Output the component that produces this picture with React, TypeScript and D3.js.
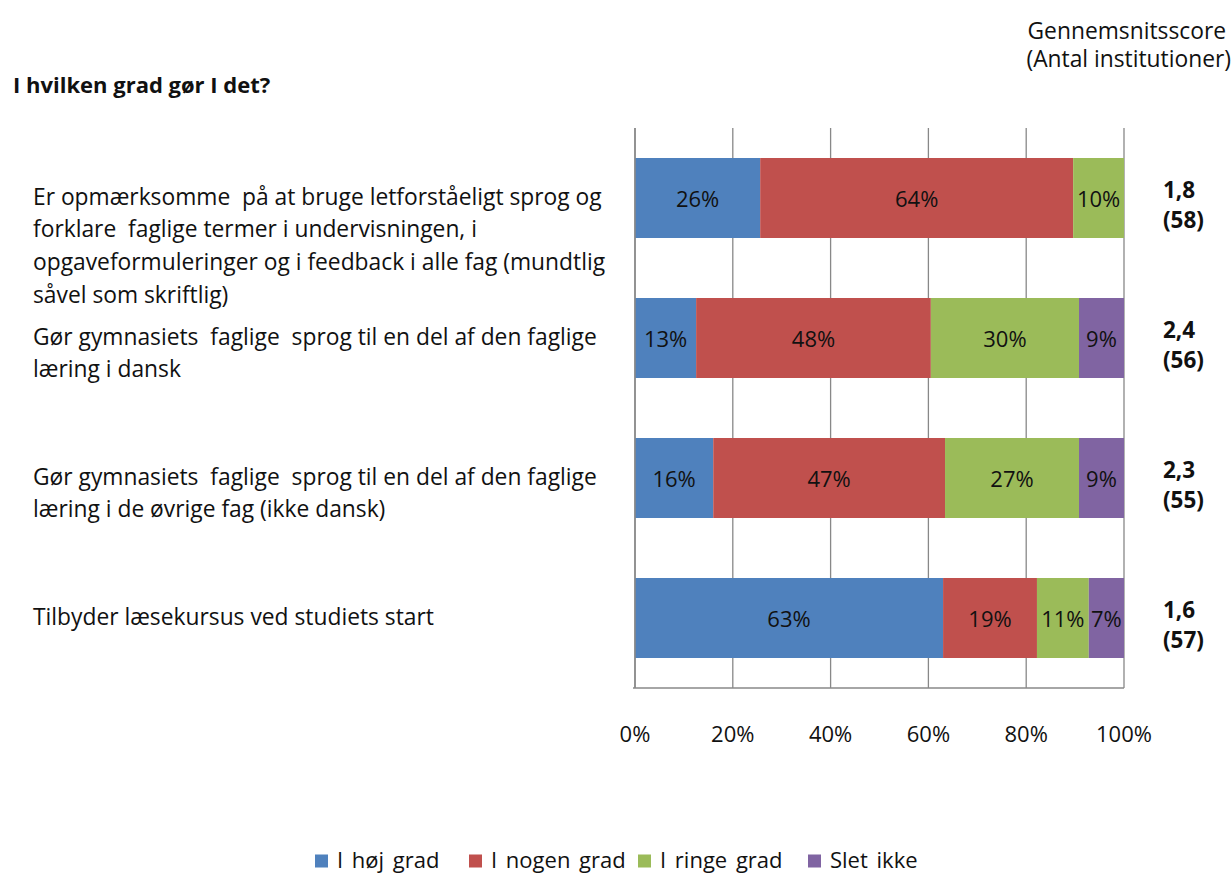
import React, { useEffect, useRef } from "react";
import * as d3 from "d3";

const categories: string[][] = [
  [
    "Er opmærksomme  på at bruge letforståeligt sprog og",
    "forklare  faglige termer i undervisningen, i",
    "opgaveformuleringer og i feedback i alle fag (mundtlig",
    "såvel som skriftlig)",
  ],
  ["Gør gymnasiets  faglige  sprog til en del af den faglige", "læring i dansk"],
  ["Gør gymnasiets  faglige  sprog til en del af den faglige", "læring i de øvrige fag (ikke dansk)"],
  ["Tilbyder læsekursus ved studiets start"],
];

const seriesNames = ["I høj grad", "I nogen grad", "I ringe grad", "Slet ikke"];
const hoejGrad = [25.6, 12.5, 16.0, 63.0];
const nogenGrad = [64.0, 48.0, 47.4, 19.2];
const ringeGrad = [10.4, 30.3, 27.4, 10.6];
const sletIkke = [0, 9.2, 9.2, 7.2];
const scores = ["1,8", "2,4", "2,3", "1,6"];
const counts = ["(58)", "(56)", "(55)", "(57)"];
const xTicks = [0, 20, 40, 60, 80, 100];
const colors = ["#4F81BD", "#C0504D", "#9BBB59", "#8064A2"];

const FONT = "'Open Sans', Lato, sans-serif";

export default function App() {
  const ref = useRef<SVGSVGElement>(null);

  useEffect(() => {
    const svg = d3.select(ref.current);
    svg.selectAll("*").remove();

    const x0 = 635, x1 = 1124, y0 = 128, y1 = 688;
    const x = d3.scaleLinear().domain([0, 100]).range([x0, x1]);
    const y = d3
      .scaleBand<number>()
      .domain(d3.range(categories.length))
      .range([y0, y1])
      .paddingInner(3 / 7)
      .paddingOuter(3 / 14);

    const values = [hoejGrad, nogenGrad, ringeGrad, sletIkke];
    const rows = categories.map((_, i) => {
      const obj: any = { i };
      seriesNames.forEach((s, k) => (obj[s] = values[k][i]));
      return obj;
    });
    const stacked = d3.stack<any>().keys(seriesNames)(rows);

    // gridlines
    svg
      .append("g")
      .selectAll("line")
      .data(xTicks)
      .join("line")
      .attr("x1", (d) => x(d))
      .attr("x2", (d) => x(d))
      .attr("y1", y0)
      .attr("y2", y1)
      .attr("stroke", "#888888")
      .attr("stroke-width", 1.3);

    // bars
    stacked.forEach((layer, k) => {
      const g = svg.append("g");
      const segs = layer.filter((d) => d[1] - d[0] > 0);
      g.selectAll("rect")
        .data(segs)
        .join("rect")
        .attr("x", (d) => x(d[0]))
        .attr("width", (d) => x(d[1]) - x(d[0]))
        .attr("y", (d) => y(d.data.i)!)
        .attr("height", y.bandwidth())
        .attr("fill", colors[k]);
      g.selectAll("text")
        .data(segs)
        .join("text")
        .attr("x", (d) => (x(d[0]) + x(d[1])) / 2)
        .attr("y", (d) => y(d.data.i)! + y.bandwidth() / 2)
        .attr("text-anchor", "middle")
        .attr("dominant-baseline", "central")
        .attr("font-family", FONT)
        .attr("font-size", 22)
        .attr("fill", "#111")
        .text((d) => `${Math.round(d[1] - d[0])}%`);
    });

    // axes lines
    svg
      .append("line")
      .attr("x1", x0 - 2)
      .attr("x2", x1)
      .attr("y1", y1)
      .attr("y2", y1)
      .attr("stroke", "#888888")
      .attr("stroke-width", 1.5);
    svg
      .append("line")
      .attr("x1", x0)
      .attr("x2", x0)
      .attr("y1", y0)
      .attr("y2", y1)
      .attr("stroke", "#888888")
      .attr("stroke-width", 1.5);

    // x tick labels
    svg
      .append("g")
      .selectAll("text")
      .data(xTicks)
      .join("text")
      .attr("x", (d) => x(d))
      .attr("y", 733)
      .attr("text-anchor", "middle")
      .attr("dominant-baseline", "central")
      .attr("font-family", FONT)
      .attr("font-size", 22)
      .attr("fill", "#111")
      .text((d) => `${d}%`);

    // category labels
    categories.forEach((lines, i) => {
      const cy = y(i)! + y.bandwidth() / 2;
      const t = svg
        .append("text")
        .attr("font-family", FONT)
        .attr("font-size", 22.8)
        .attr("fill", "#111")
        .style("white-space", "pre");
      lines.forEach((ln, j) => {
        t.append("tspan")
          .attr("x", 33)
          .attr("y", cy - 2 + j * 32.7)
          .attr("dominant-baseline", "central")
          .text(ln);
      });
    });

    // right labels
    scores.forEach((s, i) => {
      const cy = y(i)! + y.bandwidth() / 2;
      svg
        .append("text")
        .attr("x", 1163)
        .attr("y", cy)
        .attr("font-family", FONT)
        .attr("font-weight", "bold")
        .attr("font-size", 22.5)
        .attr("fill", "#111")
        .text(s);
      svg
        .append("text")
        .attr("x", 1163)
        .attr("y", cy + 30)
        .attr("font-family", FONT)
        .attr("font-weight", "bold")
        .attr("font-size", 22.5)
        .attr("fill", "#111")
        .text(counts[i]);
    });

    // header
    svg
      .append("text")
      .attr("x", 1226)
      .attr("y", 39)
      .attr("text-anchor", "end")
      .attr("font-family", FONT)
      .attr("font-size", 22.8)
      .attr("fill", "#111")
      .text("Gennemsnitsscore");
    svg
      .append("text")
      .attr("x", 1231)
      .attr("y", 67)
      .attr("text-anchor", "end")
      .attr("font-family", FONT)
      .attr("font-size", 22.8)
      .attr("fill", "#111")
      .text("(Antal institutioner)");

    // title
    svg
      .append("text")
      .attr("x", 13)
      .attr("y", 93)
      .attr("font-family", FONT)
      .attr("font-weight", "bold")
      .attr("font-size", 22)
      .attr("fill", "#111")
      .text("I hvilken grad gør I det?");

    // legend
    const legendX = [315, 469, 638, 808];
    const lg = svg
      .append("g")
      .selectAll("g")
      .data(seriesNames)
      .join("g")
      .attr("transform", (_, k) => `translate(${legendX[k]},860)`);
    lg.append("rect")
      .attr("x", 0)
      .attr("y", -5.5)
      .attr("width", 13)
      .attr("height", 13)
      .attr("fill", (_, k) => colors[k]);
    lg.append("text")
      .attr("x", 22)
      .attr("y", 8)
      .attr("font-family", FONT)
      .attr("font-size", 22)
      .attr("fill", "#111")
      .attr("word-spacing", 3)
      .text((d) => d);
  }, []);

  return (
    <svg
      ref={ref}
      width={1232}
      height={874}
      style={{ position: "absolute", left: 0, top: 0, background: "#fff" }}
    />
  );
}
